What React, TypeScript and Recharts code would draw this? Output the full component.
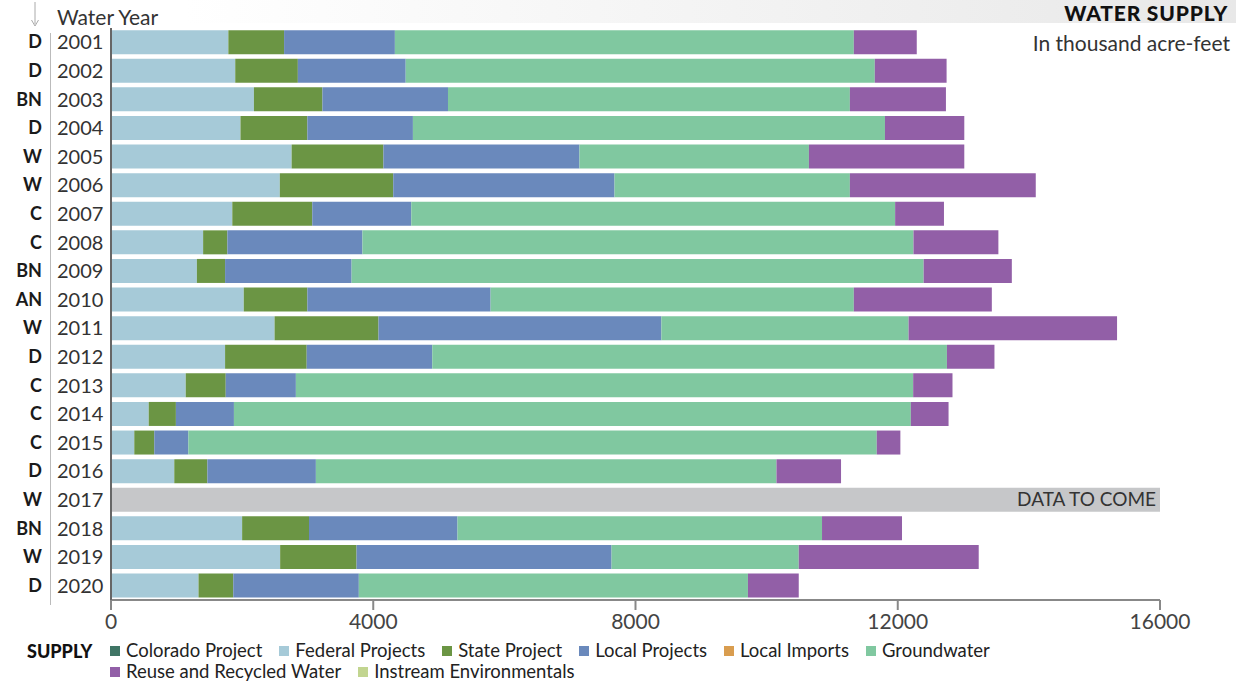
import React from 'react';
import { BarChart, Bar, XAxis, YAxis, LabelList } from 'recharts';

const years = ['2001','2002','2003','2004','2005','2006','2007','2008','2009','2010','2011','2012','2013','2014','2015','2016','2017','2018','2019','2020'];
const yearTypes = ['D','D','BN','D','W','W','C','C','BN','AN','W','D','C','C','C','D','W','BN','W','D'];
const colorado = [0,0,0,0,0,0,0,0,0,0,0,0,0,0,0,0,0,0,0,0];
const federal = [1790,1895,2180,1975,2755,2575,1850,1405,1310,2025,2495,1740,1140,575,355,965,0,2000,2580,1335];
const stateProject = [850,955,1045,1020,1400,1730,1220,370,430,970,1585,1245,610,415,305,505,0,1020,1165,530];
const localProjects = [1690,1645,1915,1610,2990,3375,1510,2060,1930,2795,4315,1915,1070,885,520,1655,0,2265,3890,1915];
const localImports = [0,0,0,0,0,0,0,0,0,0,0,0,0,0,0,0,0,0,0,0];
const groundwater = [7000,7155,6130,7200,3500,3590,7380,8405,8725,5540,3770,7850,9415,10325,10500,7025,0,5560,2855,5935];
const reuse = [960,1095,1465,1210,2370,2835,745,1295,1345,2105,3180,725,600,575,360,985,0,1220,2745,775];
const instream = [0,0,0,0,0,0,0,0,0,0,0,0,0,0,0,0,0,0,0,0];
const dataToCome = [0,0,0,0,0,0,0,0,0,0,0,0,0,0,0,0,16000,0,0,0];
const xTicks = [0, 4000, 8000, 12000, 16000];

const series = [
  { key: 'colorado', name: 'Colorado Project', color: '#3f7565', values: colorado },
  { key: 'federal', name: 'Federal Projects', color: '#a6cad8', values: federal },
  { key: 'state', name: 'State Project', color: '#6b9544', values: stateProject },
  { key: 'local', name: 'Local Projects', color: '#6a89bc', values: localProjects },
  { key: 'imports', name: 'Local Imports', color: '#d99d4f', values: localImports },
  { key: 'groundwater', name: 'Groundwater', color: '#80c8a0', values: groundwater },
  { key: 'reuse', name: 'Reuse and Recycled Water', color: '#925fa7', values: reuse },
  { key: 'instream', name: 'Instream Environmentals', color: '#c2d590', values: instream },
];

const data = years.map((y, i) => {
  const row: any = { year: y, type: yearTypes[i], pending: dataToCome[i] };
  series.forEach((s) => { row[s.key] = s.values[i]; });
  return row;
});

const FONT = 'Lato, "Open Sans", sans-serif';

const YTick = (props: any) => {
  const { x, y, payload } = props;
  const i = years.indexOf(payload.value);
  return (
    <g>
      <text x={x - 69} y={y} dy={6} textAnchor="end" fontFamily={FONT} fontWeight={700} fontSize={18} fill="#1a1a1a">
        {yearTypes[i]}
      </text>
      <text x={x - 54} y={y} dy={7} textAnchor="start" fontFamily={FONT} fontSize={20} fill="#333">
        {payload.value}
      </text>
    </g>
  );
};

const PendingLabel = (props: any) => {
  const { x, y, width, height, value } = props;
  if (!value) return null;
  return (
    <text x={x + width - 4} y={y + height / 2} dy={6} textAnchor="end" fontFamily={FONT} fontSize={19} fill="#333">
      DATA TO COME
    </text>
  );
};

export default function App() {
  return (
    <div style={{ position: 'absolute', left: 0, top: 0, width: 1244, height: 683, background: '#fff', fontFamily: FONT, overflow: 'hidden' }}>
      <div style={{ position: 'absolute', left: 0, top: 0, width: 1236, height: 23, background: 'linear-gradient(to right, #ffffff 15%, #e8e8e8 100%)' }} />
      <div style={{ position: 'absolute', right: 16, top: 0, fontSize: 21, fontWeight: 900, letterSpacing: 0.8, color: '#111', lineHeight: 'normal' }}>WATER SUPPLY</div>
      <div style={{ position: 'absolute', right: 14, top: 31, fontSize: 21, color: '#333', lineHeight: '24px' }}>In thousand acre-feet</div>
      <div style={{ position: 'absolute', left: 57, top: 5, fontSize: 21, color: '#333', lineHeight: '24px' }}>Water Year</div>
      <svg style={{ position: 'absolute', left: 28, top: 0 }} width={14} height={30}>
        <line x1={7} y1={2} x2={7} y2={24} stroke="#aaa" strokeWidth={1} />
        <path d="M3.5 20 L7 26 L10.5 20" fill="none" stroke="#aaa" strokeWidth={1} />
      </svg>
      <div style={{ position: 'absolute', left: 50, top: 33, width: 1, height: 572, background: '#bbb' }} />
      <div style={{ position: 'absolute', left: 0, top: 0 }}>
        <BarChart
          width={1244}
          height={683}
          data={data}
          layout="vertical"
          margin={{ top: 28, right: 84, bottom: 43, left: 0 }}
          barCategoryGap="7.5%"
        >
          <XAxis
            type="number"
            domain={[0, 16000]}
            ticks={xTicks}
            height={40}
            axisLine={{ stroke: '#888', strokeWidth: 2 }}
            tickLine={{ stroke: '#888', strokeWidth: 2 }}
            tickSize={10}
            tickMargin={4}
            tick={{ fontFamily: FONT, fontSize: 21, fill: '#444' }}
          />
          <YAxis
            type="category"
            dataKey="year"
            width={111}
            axisLine={{ stroke: '#666', strokeWidth: 2 }}
            tickLine={false}
            tickSize={0}
            tickMargin={0}
            interval={0}
            tick={<YTick />}
          />
          {series.map((s) => (
            <Bar key={s.key} dataKey={s.key} name={s.name} stackId="supply" fill={s.color} isAnimationActive={false} />
          ))}
          <Bar dataKey="pending" stackId="supply" fill="#c6c7c9" isAnimationActive={false}>
            <LabelList dataKey="pending" content={<PendingLabel />} />
          </Bar>
        </BarChart>
      </div>
      <div style={{ position: 'absolute', left: 27, top: 640, fontSize: 18, fontWeight: 900, color: '#111', lineHeight: '22px' }}>SUPPLY</div>
      <div style={{ position: 'absolute', left: 110, top: 640, width: 920, display: 'flex', flexWrap: 'wrap', columnGap: 17, rowGap: 0 }}>
        {series.map((s) => (
          <div key={s.key} style={{ display: 'flex', alignItems: 'center', fontSize: 18.5, color: '#222', lineHeight: '21px' }}>
            <span style={{ display: 'inline-block', width: 10, height: 10, background: s.color, marginRight: 6 }} />
            {s.name}
          </div>
        ))}
      </div>
    </div>
  );
}
